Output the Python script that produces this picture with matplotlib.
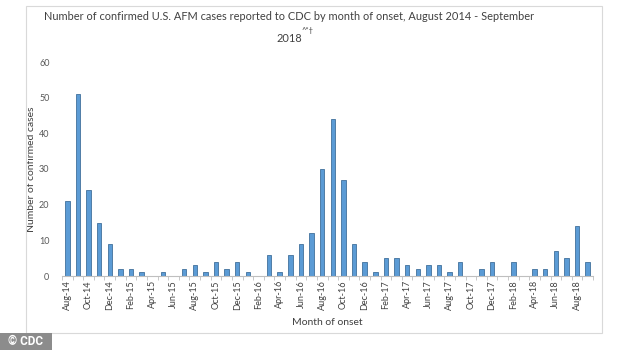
# AFM cases by month of onset - recreation of the CDC bar chart

import matplotlib
matplotlib.use("Agg")
import matplotlib.pyplot as plt
from matplotlib.patches import Rectangle

# --------------------------------------------------
# DATA

months = ['Aug-14', 'Sep-14', 'Oct-14', 'Nov-14', 'Dec-14',
          'Jan-15', 'Feb-15', 'Mar-15', 'Apr-15', 'May-15', 'Jun-15',
          'Jul-15', 'Aug-15', 'Sep-15', 'Oct-15', 'Nov-15', 'Dec-15',
          'Jan-16', 'Feb-16', 'Mar-16', 'Apr-16', 'May-16', 'Jun-16',
          'Jul-16', 'Aug-16', 'Sep-16', 'Oct-16', 'Nov-16', 'Dec-16',
          'Jan-17', 'Feb-17', 'Mar-17', 'Apr-17', 'May-17', 'Jun-17',
          'Jul-17', 'Aug-17', 'Sep-17', 'Oct-17', 'Nov-17', 'Dec-17',
          'Jan-18', 'Feb-18', 'Mar-18', 'Apr-18', 'May-18', 'Jun-18',
          'Jul-18', 'Aug-18', 'Sep-18']

cases = [21, 51, 24, 15, 9,
         2, 2, 1, 0, 1, 0,
         2, 3, 1, 4, 2, 4,
         1, 0, 6, 1, 6, 9,
         12, 30, 44, 27, 9, 4,
         1, 5, 5, 3, 2, 3,
         3, 1, 4, 0, 2, 4,
         0, 4, 0, 2, 2, 7,
         5, 14, 4]

y_ticks = [0, 10, 20, 30, 40, 50, 60]

title_1 = "Number of confirmed U.S. AFM cases reported to CDC by month of onset, August 2014 - September"
title_2 = "2018"
title_sup = "^*\u2020"

# --------------------------------------------------
# PLOT

plt.rcParams['font.family'] = ['Lato', 'DejaVu Sans']

W, H = 634, 350
fig = plt.figure(figsize=(W / 100, H / 100), dpi=100)

# chart frame
fig.patches.append(Rectangle((26 / W, 1 - 333 / H), 576 / W, 327 / H,
                             transform=fig.transFigure, fill=False,
                             edgecolor='#d9d9d9', linewidth=0.8))

ax = fig.add_axes([62 / W, 1 - 276 / H, 531 / W, 214 / H])

x = range(len(months))
ax.bar(x, cases, width=0.42, color='#5b9bd5', edgecolor='#41719c', linewidth=0.6)

ax.set_xlim(-0.5, len(months) - 0.5)
ax.set_ylim(0, 60)
ax.set_yticks(y_ticks)
ax.set_xticks(list(x)[::2])
ax.set_xticklabels(months[::2], rotation=90, fontsize=6.5, color='#404040')
ax.set_xticks([i - 0.5 for i in range(len(months) + 1)], minor=True)
ax.tick_params(axis='x', which='major', length=0, pad=3)
ax.tick_params(axis='x', which='minor', length=3, color='#bfbfbf', width=0.6)
ax.tick_params(axis='y', length=0, labelsize=6.5, labelcolor='#595959', pad=9)

for side in ['top', 'right', 'left']:
    ax.spines[side].set_visible(False)
ax.spines['bottom'].set_color('#bfbfbf')
ax.spines['bottom'].set_linewidth(0.8)

ax.set_ylabel("Number of confirmed cases", fontsize=7.5, color='#404040')
ax.yaxis.set_label_coords(-26 / 531, 0.5)
ax.set_xlabel("Month of onset", fontsize=7.5, color='#404040', labelpad=6)

# title, two lines with a small superscript after the year
fig.text(289 / W, 1 - 17 / H, title_1, ha='center', va='center', fontsize=7.9,
         color='#404040')
fig.text(289 / W, 1 - 38 / H, title_2, ha='center', va='center', fontsize=7.9,
         color='#404040')
fig.text(302 / W, 1 - 31 / H, title_sup, ha='left', va='center', fontsize=5.5,
         color='#404040')

# CDC badge
fig.patches.append(Rectangle((0, 0), 52 / W, 17 / H, transform=fig.transFigure,
                             facecolor='#8c8c8c', edgecolor='none'))
fig.text(26 / W, 8.5 / H, "\u00a9 CDC", ha='center', va='center',
         fontsize=8.5, color='white', weight='bold', family=['Roboto', 'DejaVu Sans'])

plt.savefig('out.png', dpi=100)
